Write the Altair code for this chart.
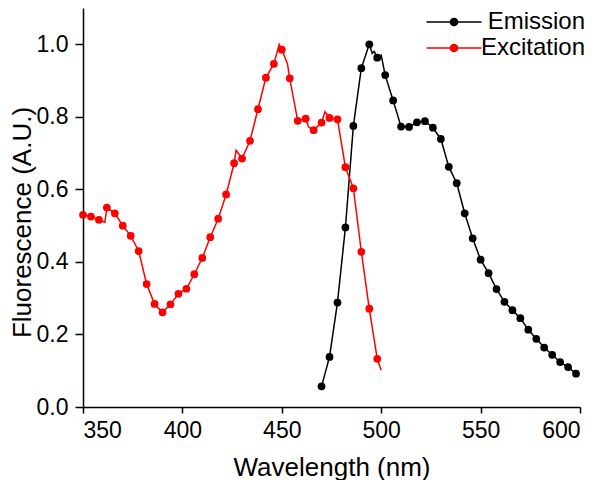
import altair as alt
import pandas as pd

# ---------------- data ----------------
series_names = ["Emission", "Excitation"]
series_colors = ["#000000", "#FF0000"]

exc_marker_nm = [350, 354, 358, 362, 366, 370, 374, 378, 382, 386, 390, 394, 398,
                 402, 406, 410, 414, 418, 422, 426, 430, 434, 438, 442, 446, 450,
                 454, 458, 462, 466, 470, 474, 478, 482, 486, 490, 494, 498]
exc_marker_val = [0.530, 0.525, 0.516, 0.550, 0.534, 0.500, 0.472, 0.430, 0.339,
                  0.284, 0.261, 0.283, 0.312, 0.326, 0.366, 0.411, 0.468, 0.519,
                  0.586, 0.672, 0.685, 0.734, 0.821, 0.908, 0.946, 0.985, 0.906,
                  0.789, 0.795, 0.763, 0.784, 0.797, 0.793, 0.661, 0.603, 0.428,
                  0.271, 0.133]

# the excitation trace (finer than the markers, with its small wiggles)
exc_line_nm = [350, 354, 358, 361, 362, 366, 370, 374, 378, 382, 386, 390, 394, 398,
               402, 406, 410, 414, 418, 422, 426, 427, 430, 434, 438, 442, 446, 448.7,
               450, 452.8, 454, 458, 462, 463.5, 466, 470, 471.7, 474, 478, 482, 486,
               490, 494, 498, 500]
exc_line_val = [0.530, 0.525, 0.516, 0.509, 0.550, 0.534, 0.500, 0.472, 0.430, 0.339,
                0.284, 0.261, 0.283, 0.312, 0.326, 0.366, 0.411, 0.468, 0.519, 0.586,
                0.672, 0.708, 0.685, 0.734, 0.821, 0.908, 0.946, 1.000, 0.985, 0.947,
                0.906, 0.789, 0.795, 0.772, 0.763, 0.784, 0.814, 0.797, 0.793, 0.661,
                0.603, 0.428, 0.271, 0.133, 0.101]

em_marker_nm = [470, 474, 478, 482, 486, 490, 494, 498, 502, 506, 510, 514, 518,
                522, 526, 530, 534, 538, 542, 546, 550, 554, 558, 562, 566, 570,
                574, 578, 582, 586, 590, 594, 598]
em_marker_val = [0.057, 0.138, 0.288, 0.495, 0.775, 0.934, 1.000, 0.963, 0.915,
                 0.845, 0.773, 0.772, 0.785, 0.788, 0.770, 0.739, 0.662, 0.617,
                 0.534, 0.465, 0.406, 0.369, 0.325, 0.290, 0.267, 0.245, 0.213,
                 0.188, 0.164, 0.144, 0.124, 0.110, 0.092]

em_line_nm = [470, 474, 478, 482, 486, 490, 494, 495.5, 496.5, 498, 500, 502, 506,
              510, 514, 518, 522, 526, 530, 534, 538, 542, 546, 550, 554, 558, 562,
              566, 570, 574, 578, 582, 586, 590, 594, 598]
em_line_val = [0.057, 0.138, 0.288, 0.495, 0.775, 0.934, 1.000, 0.975, 0.980, 0.963,
               0.970, 0.915, 0.845, 0.773, 0.772, 0.785, 0.788, 0.770, 0.739, 0.662,
               0.617, 0.534, 0.465, 0.406, 0.369, 0.325, 0.290, 0.267, 0.245, 0.213,
               0.188, 0.164, 0.144, 0.124, 0.110, 0.092]

x_ticks = [350, 400, 450, 500, 550, 600]
y_ticks = [0.0, 0.2, 0.4, 0.6, 0.8, 1.0]

# ---------------- tables ----------------
lines = pd.concat([
    pd.DataFrame({"nm": em_line_nm, "val": em_line_val, "series": "Emission"}),
    pd.DataFrame({"nm": exc_line_nm, "val": exc_line_val, "series": "Excitation"}),
], ignore_index=True)
markers = pd.concat([
    pd.DataFrame({"nm": em_marker_nm, "val": em_marker_val, "series": "Emission"}),
    pd.DataFrame({"nm": exc_marker_nm, "val": exc_marker_val, "series": "Excitation"}),
], ignore_index=True)

FONT = "Liberation Sans"

x_enc = alt.X("nm:Q",
              scale=alt.Scale(domain=[350, 600], nice=False, zero=False),
              axis=alt.Axis(values=x_ticks, title="Wavelength (nm)", grid=False,
                            tickSize=6, labelPadding=6, titleY=68,
                            titleBaseline="alphabetic"))
y_enc = alt.Y("val:Q",
              scale=alt.Scale(domain=[0, 1.1], nice=False),
              axis=alt.Axis(values=y_ticks, format=".1f", title="Fluorescence (A.U.)",
                            grid=False, tickSize=8, labelPadding=7,
                            titleX=-53, titleY=214, titleAngle=270,
                            titleBaseline="alphabetic", titleAlign="center"))

color_scale = alt.Scale(domain=series_names, range=series_colors)


def ring(r):
    return f"M{-r},0A{r},{r},0,1,1,{r},0A{r},{r},0,1,1,{-r},0Z"


legend_symbol = "M-2.75,0H2.75" + "".join(ring(r) for r in [0.36, 0.24, 0.12, 0.03])

line_layer = alt.Chart(lines).mark_line(strokeWidth=1.5).encode(
    x=x_enc, y=y_enc,
    color=alt.Color("series:N", scale=color_scale,
                    legend=alt.Legend(title=None, orient="none", legendX=359, legendY=2,
                                      symbolType=legend_symbol, symbolSize=400,
                                      symbolStrokeWidth=1.5, labelFont=FONT,
                                      labelFontSize=24, labelColor="#000000",
                                      labelAlign="right",
                                      labelOffset=119, rowPadding=2, padding=0,
                                      labelLimit=300)),
)

point_layer = alt.Chart(markers).mark_point(filled=True, size=60, opacity=1).encode(
    x=x_enc, y=y_enc,
    color=alt.Color("series:N", scale=color_scale, legend=None),
)

chart = alt.layer(line_layer, point_layer).properties(
    width=497, height=399,
    padding={"left": 75, "top": 0, "right": 12, "bottom": 73},
    autosize=alt.AutoSizeParams(type="none"),
).configure_view(strokeWidth=0).configure_axis(
    labelFont=FONT, labelFontSize=23, labelColor="#000000",
    titleFont=FONT, titleFontSize=26, titleFontWeight="normal", titleColor="#000000",
    domainColor="#000000", domainWidth=1.5, tickColor="#000000", tickWidth=1.5,
)

chart.save("out.html", embed_options={"renderer": "svg", "actions": False})
